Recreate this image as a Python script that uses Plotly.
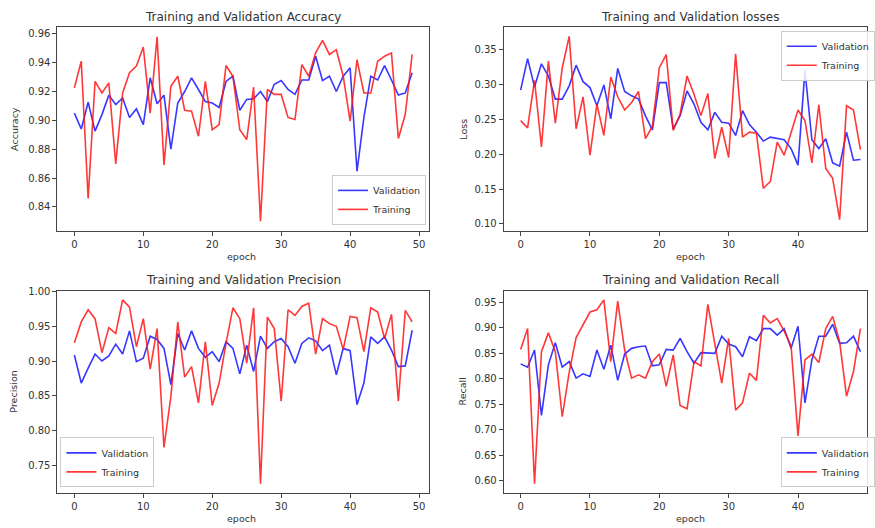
import plotly.graph_objects as go

epochs = list(range(50))

acc_val = [0.905, 0.894, 0.9126, 0.8925, 0.904, 0.9175, 0.911, 0.9156, 0.902, 0.908,
           0.897, 0.9295, 0.9115, 0.9175, 0.880, 0.912, 0.920, 0.9295, 0.9214, 0.913,
           0.912, 0.909, 0.927, 0.9306, 0.907, 0.9145, 0.915, 0.920, 0.913, 0.925,
           0.9276, 0.9214, 0.918, 0.928, 0.928, 0.9445, 0.9276, 0.9306, 0.920, 0.9306,
           0.9364, 0.8647, 0.902, 0.9306, 0.928, 0.938, 0.928, 0.9175, 0.919, 0.933]
acc_train = [0.9225, 0.941, 0.8458, 0.927, 0.919, 0.926, 0.8698, 0.919, 0.933, 0.9376,
             0.9508, 0.905, 0.958, 0.869, 0.9237, 0.9306, 0.907, 0.9064, 0.889, 0.927,
             0.8935, 0.897, 0.938, 0.9306, 0.8935, 0.8867, 0.923, 0.830, 0.9214, 0.918,
             0.918, 0.902, 0.9006, 0.9387, 0.9306, 0.9468, 0.9554, 0.9457, 0.949, 0.9306,
             0.8994, 0.942, 0.919, 0.919, 0.941, 0.9445, 0.9468, 0.8874, 0.904, 0.9457]

loss_val = [0.2918, 0.337, 0.2965, 0.3296, 0.312, 0.279, 0.279, 0.298, 0.3277, 0.304,
            0.2955, 0.2695, 0.2993, 0.2506, 0.323, 0.290, 0.2837, 0.279, 0.255, 0.235,
            0.3027, 0.3027, 0.2364, 0.2553, 0.2908, 0.2719, 0.2458, 0.235, 0.260, 0.2458,
            0.2444, 0.2269, 0.2624, 0.2425, 0.2316, 0.2188, 0.2245, 0.2222, 0.2207, 0.208,
            0.1843, 0.3202, 0.2207, 0.208, 0.2222, 0.1876, 0.1829, 0.2316, 0.1914, 0.1923]
loss_train = [0.2482, 0.2378, 0.306, 0.2103, 0.3334, 0.2444, 0.324, 0.369, 0.2364, 0.2823,
              0.1985, 0.2719, 0.2269, 0.3107, 0.2823, 0.2634, 0.2742, 0.2899, 0.2222, 0.2397,
              0.324, 0.3429, 0.234, 0.2577, 0.3121, 0.2861, 0.2553, 0.287, 0.1938, 0.2387,
              0.1952, 0.3438, 0.2245, 0.2316, 0.2302, 0.1511, 0.1606, 0.2174, 0.1985, 0.2293,
              0.2634, 0.2482, 0.1876, 0.2709, 0.1796, 0.1653, 0.1062, 0.2695, 0.2634, 0.2065]

prec_val = [0.9086, 0.8684, 0.8897, 0.910, 0.900, 0.9072, 0.9242, 0.910, 0.9432, 0.8991,
            0.9039, 0.9356, 0.9309, 0.9181, 0.866, 0.9394, 0.9157, 0.9432, 0.9181, 0.9053,
            0.9134, 0.8991, 0.9276, 0.9181, 0.8816, 0.9228, 0.885, 0.9356, 0.9181, 0.9276,
            0.9323, 0.9205, 0.8968, 0.9252, 0.9332, 0.929, 0.9148, 0.9228, 0.8802, 0.9181,
            0.9148, 0.8376, 0.8684, 0.9347, 0.9252, 0.9347, 0.9157, 0.892, 0.893, 0.9441]
prec_train = [0.9261, 0.956, 0.9735, 0.9607, 0.9119, 0.9479, 0.9394, 0.9877, 0.9773, 0.9205,
              0.9607, 0.8883, 0.9465, 0.776, 0.8494, 0.956, 0.8769, 0.892, 0.840, 0.9276,
              0.8362, 0.8684, 0.9252, 0.9763, 0.9607, 0.8968, 0.9763, 0.724, 0.963, 0.9465,
              0.8423, 0.9735, 0.9654, 0.9782, 0.983, 0.910, 0.9607, 0.9536, 0.9498, 0.9167,
              0.964, 0.9621, 0.9134, 0.9763, 0.9702, 0.9323, 0.9669, 0.8423, 0.9725, 0.956]

rec_val = [0.8288, 0.8223, 0.856, 0.7277, 0.8269, 0.8703, 0.8223, 0.8333, 0.8009, 0.8094,
           0.8042, 0.856, 0.8184, 0.8657, 0.7964, 0.8482, 0.8593, 0.8625, 0.8638, 0.8249,
           0.8269, 0.8573, 0.856, 0.8787, 0.8528, 0.8301, 0.8508, 0.8495, 0.8495, 0.8832,
           0.8677, 0.8625, 0.843, 0.882, 0.8742, 0.8981, 0.8981, 0.8852, 0.8981, 0.8593,
           0.9027, 0.7523, 0.8366, 0.8832, 0.8832, 0.9066, 0.869, 0.8703, 0.8832, 0.8528]
rec_train = [0.8573, 0.8981, 0.5935, 0.8528, 0.8897, 0.8528, 0.7251, 0.812, 0.8806, 0.9046,
             0.9306, 0.9351, 0.9545, 0.8333, 0.9519, 0.856, 0.8009, 0.8074, 0.8009, 0.8333,
             0.8482, 0.7847, 0.8463, 0.7471, 0.7407, 0.8333, 0.8249, 0.9455, 0.8657, 0.7912,
             0.8787, 0.7381, 0.7523, 0.8106, 0.7964, 0.9241, 0.9092, 0.9176, 0.8936, 0.8638,
             0.6875, 0.8366, 0.8482, 0.8314, 0.8981, 0.9221, 0.8722, 0.7653, 0.8139, 0.8981]

titles = ["Training and Validation Accuracy", "Training and Validation losses",
          "Training and Validation Precision", "Training and Validation Recall"]
ylabels = ["Accuracy", "Loss", "Precision", "Recall"]

W, H = 875, 528
FONT = "DejaVu Sans"
BLUE = "rgba(20,20,255,0.85)"
RED = "rgba(255,20,20,0.85)"
TXT = "#333333"

def px_x(p):
    return p / W

def px_y(p):
    return 1 - p / H

# panel pixel boxes: (left, right, top, bottom)
boxes = [(58, 433, 22.7, 227.7), (508.3, 875, 22.7, 227.7),
         (58, 433, 288.3, 492.7), (508.3, 875, 288.3, 492.7)]
xranges = [[-2.45, 51.45], [-2.45, 49.95], [-2.45, 51.45], [-2.45, 49.95]]
yranges = [[0.8236, 0.9644], [0.0905, 0.3817], [0.7107, 1.001], [0.5754, 0.9727]]
ytick_vals = [[0.84, 0.86, 0.88, 0.90, 0.92, 0.94, 0.96],
              [0.10, 0.15, 0.20, 0.25, 0.30, 0.35],
              [0.75, 0.80, 0.85, 0.90, 0.95, 1.00],
              [0.60, 0.65, 0.70, 0.75, 0.80, 0.85, 0.90, 0.95]]
xtick_vals = [0, 10, 20, 30, 40, 50]
series = [(acc_val, acc_train), (loss_val, loss_train),
          (prec_val, prec_train), (rec_val, rec_train)]
legend_names = ["legend", "legend2", "legend3", "legend4"]
# legend anchor pixel positions (x, y, xanchor, yanchor)
legend_pos = [(430, 222, "right", "bottom"), (788, 26, "left", "top"),
              (61, 487, "left", "bottom"), (788, 487, "left", "bottom")]
title_x = [245.5, 696.5, 245.5, 696.5]
ylabel_x = [14, 467, 14, 467]

fig = go.Figure()
annotations = []
layout = dict(width=W, height=H, margin=dict(l=0, r=0, t=0, b=0),
              paper_bgcolor="white", plot_bgcolor="white",
              font=dict(family=FONT, size=10, color=TXT))

for i in range(4):
    ax = "" if i == 0 else str(i + 1)
    l, r, t, b = boxes[i]
    v, tr = series[i]
    lg = legend_names[i]
    fig.add_trace(go.Scatter(x=epochs, y=v, mode="lines", name="Validation",
                             line=dict(color=BLUE, width=1.6),
                             xaxis="x" + ax, yaxis="y" + ax, legend=lg))
    fig.add_trace(go.Scatter(x=epochs, y=tr, mode="lines", name="Training",
                             line=dict(color=RED, width=1.6),
                             xaxis="x" + ax, yaxis="y" + ax, legend=lg))
    layout["xaxis" + ax] = dict(domain=[px_x(l), px_x(r)], range=xranges[i],
                                anchor="y" + ax, tickvals=xtick_vals,
                                ticks="outside", ticklen=4, tickcolor="#444",
                                showline=True, linecolor="#444", linewidth=1,
                                mirror=True, showgrid=False, zeroline=False,
                                tickfont=dict(size=10, color=TXT))
    layout["yaxis" + ax] = dict(domain=[px_y(b), px_y(t)], range=yranges[i],
                                anchor="x" + ax, tickvals=ytick_vals[i],
                                tickformat=".2f",
                                ticks="outside", ticklen=4, tickcolor="#444",
                                showline=True, linecolor="#444", linewidth=1,
                                mirror=True, showgrid=False, zeroline=False,
                                tickfont=dict(size=10, color=TXT))
    lx, ly, xa, ya = legend_pos[i]
    layout[lg] = dict(x=px_x(lx), y=px_y(ly), xanchor=xa, yanchor=ya,
                      xref="paper", yref="paper",
                      bgcolor="rgba(255,255,255,0.85)", bordercolor="#cccccc",
                      borderwidth=1, font=dict(size=9.5, color=TXT),
                      itemwidth=30, tracegroupgap=0)
    annotations.append(dict(text=titles[i], x=px_x(title_x[i]), y=px_y(t - 11),
                            xref="paper", yref="paper", showarrow=False,
                            xanchor="center", yanchor="middle",
                            font=dict(size=12, color=TXT)))
    annotations.append(dict(text="epoch", x=px_x(title_x[i] - (2 if i % 2 == 0 else 0)),
                            y=px_y(b + 26), xref="paper", yref="paper",
                            showarrow=False, xanchor="center", yanchor="middle",
                            font=dict(size=9.5, color=TXT)))
    annotations.append(dict(text=ylabels[i], x=px_x(ylabel_x[i]), y=px_y((t + b) / 2),
                            xref="paper", yref="paper", showarrow=False,
                            textangle=-90, xanchor="center", yanchor="middle",
                            font=dict(size=9.5, color=TXT)))

layout["annotations"] = annotations
fig.update_layout(**layout)

post = ("document.body.style.margin='0';document.body.style.padding='0';"
        "document.body.style.overflow='hidden';"
        "var d=document.getElementById('{plot_id}');"
        "d.style.position='absolute';d.style.left='0px';d.style.top='0px';")
fig.write_html("out.html", post_script=post, config={"displayModeBar": False})
